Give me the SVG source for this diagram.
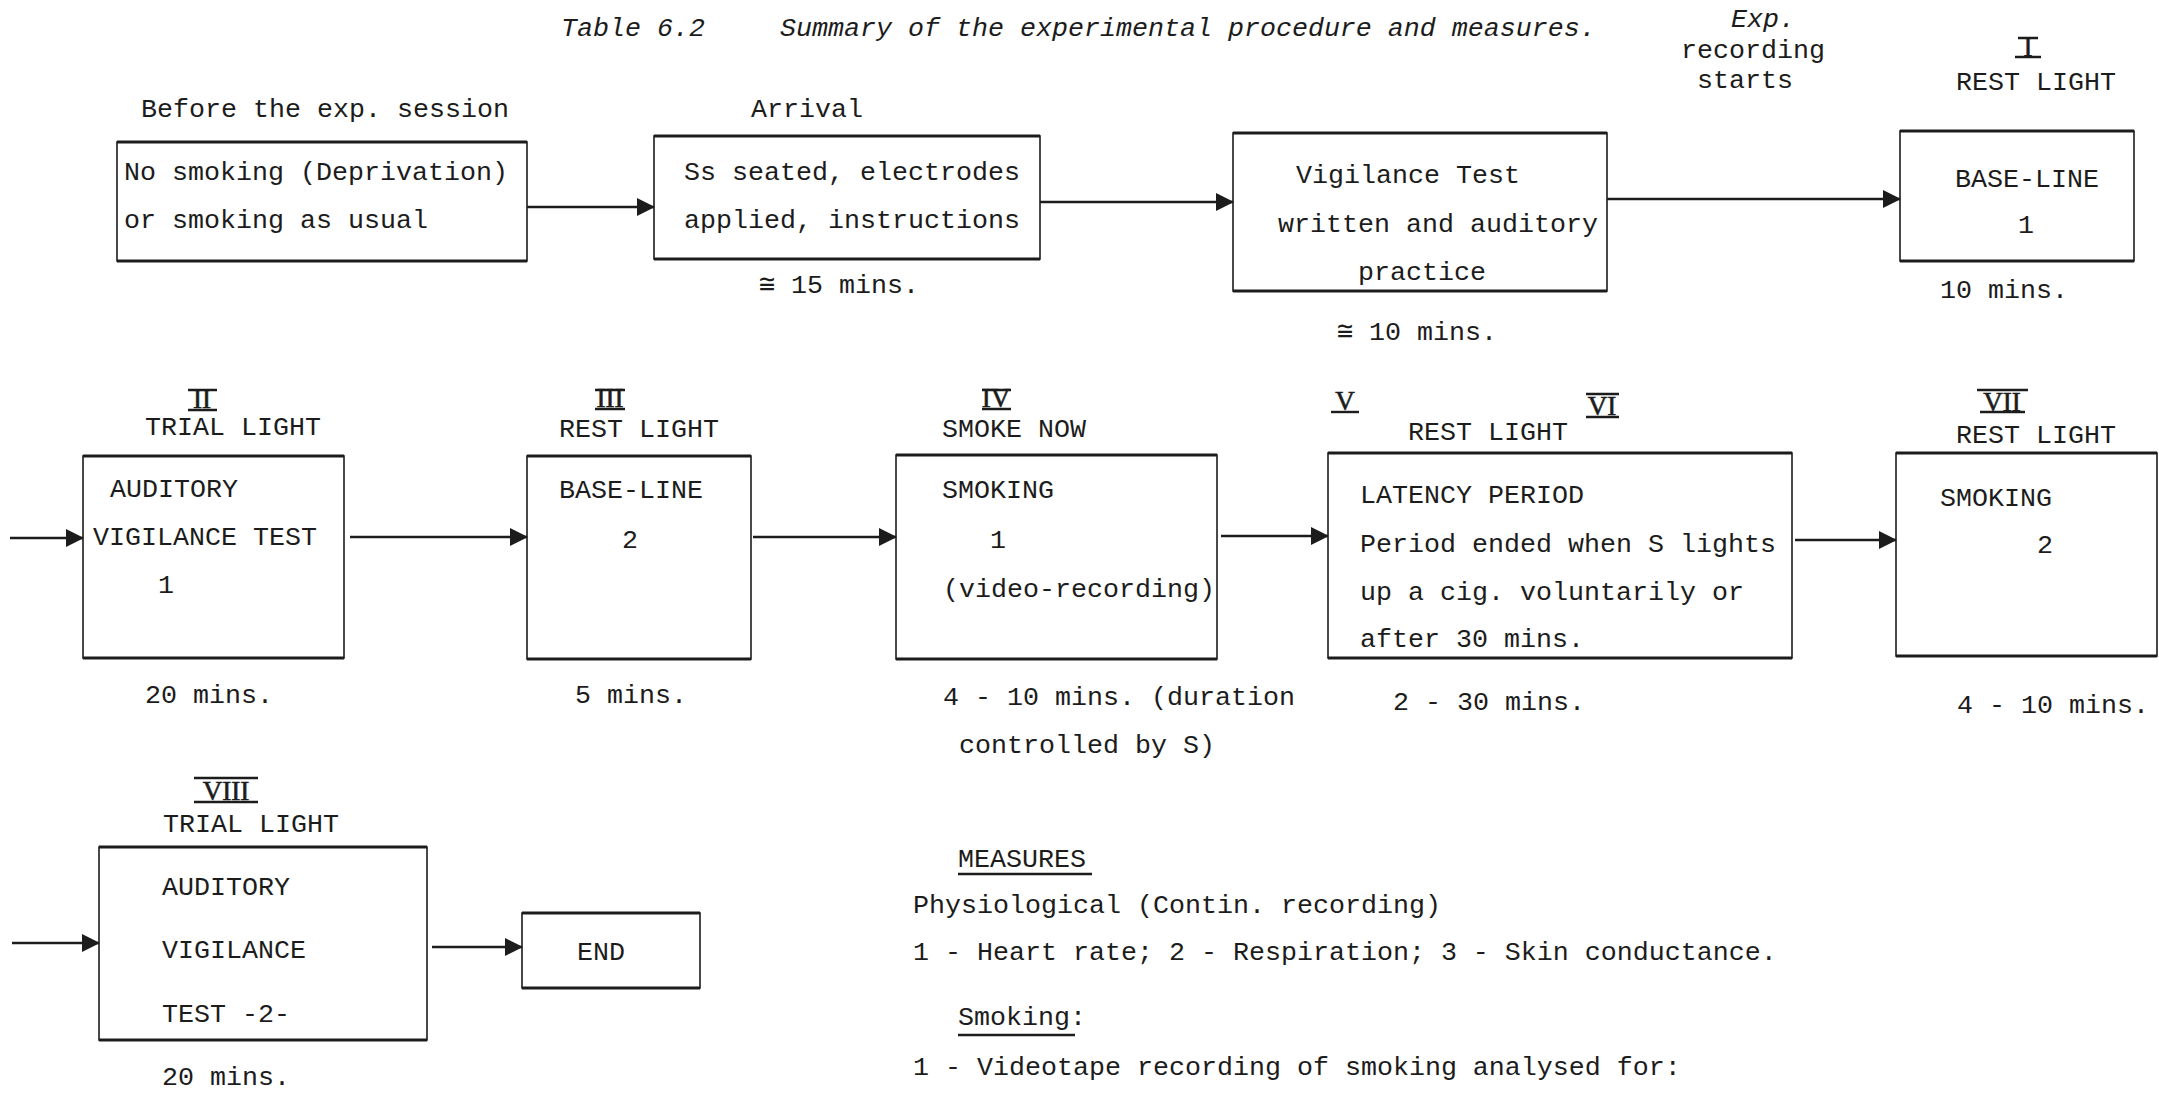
<svg xmlns="http://www.w3.org/2000/svg" width="2159" height="1093" viewBox="0 0 2159 1093">
<defs>
<style>
text{font-family:"Liberation Mono","DejaVu Sans Mono",monospace;font-size:26.67px;fill:#1c1c1c}
.it{font-style:italic}
.rn{font-family:"Liberation Serif","DejaVu Serif",serif;font-size:27px;text-anchor:middle;stroke:#1c1c1c;stroke-width:0.6}
.box{fill:none;stroke:#1c1c1c;stroke-width:1.6}
.edge{stroke:#1c1c1c;stroke-width:3.2;fill:none}
.bar{stroke:#1c1c1c;stroke-width:2.4;fill:none}
.conn{stroke:#1c1c1c;stroke-width:2.6;fill:none;marker-end:url(#ah)}
</style>
<marker id="ah" markerUnits="userSpaceOnUse" markerWidth="18" markerHeight="20" refX="17" refY="10" orient="auto" viewBox="0 0 18 20"><path d="M0,1 L18,10 L0,19 Z" fill="#1c1c1c"/></marker>
</defs>
<rect x="0" y="0" width="2159" height="1093" fill="#ffffff"/>

<g id="title">
<text class="it" x="561" y="36">Table 6.2</text>
<text class="it" x="780" y="36">Summary of the experimental procedure and measures.</text>
</g>

<g id="rec-start">
<text class="it" x="1731" y="27">Exp.</text>
<text x="1681" y="58">recording</text>
<text x="1697" y="88">starts</text>
</g>

<g id="n-before">
<text x="141" y="117">Before the exp. session</text>
<rect class="box" x="117" y="142" width="410" height="119"/>
<path class="edge" d="M117,142 H527 M117,261 H527"/>
<text x="124" y="180">No smoking (Deprivation)</text>
<text x="124" y="228">or smoking as usual</text>
</g>

<g id="n-arrival">
<text x="751" y="117">Arrival</text>
<rect class="box" x="654" y="136" width="386" height="123"/>
<path class="edge" d="M654,136 H1040 M654,259 H1040"/>
<text x="684" y="180">Ss seated, electrodes</text>
<text x="684" y="228">applied, instructions</text>
<text x="759" y="293">≅ 15 mins.</text>
</g>

<g id="n-vigilance-practice">
<rect class="box" x="1233" y="133" width="374" height="158"/>
<path class="edge" d="M1233,133 H1607 M1233,291 H1607"/>
<text x="1296" y="183">Vigilance Test</text>
<text x="1278" y="232">written and auditory</text>
<text x="1358" y="280">practice</text>
<text x="1337" y="340">≅ 10 mins.</text>
</g>

<g id="n-baseline1">
<text class="rn" x="2028" y="56">I</text>
<path class="bar" d="M2018,38 H2038 M2015,57 H2041"/>
<text x="1956" y="90">REST LIGHT</text>
<rect class="box" x="1900" y="131" width="234" height="130"/>
<path class="edge" d="M1900,131 H2134 M1900,261 H2134"/>
<text x="1955" y="187">BASE-LINE</text>
<text x="2018" y="233">1</text>
<text x="1940" y="298">10 mins.</text>
</g>

<g id="n-trial1">
<text class="rn" x="202" y="408">II</text>
<path class="bar" d="M188,390 H217 M188,410 H217"/>
<text x="145" y="435">TRIAL LIGHT</text>
<rect class="box" x="83" y="456" width="261" height="202"/>
<path class="edge" d="M83,456 H344 M83,658 H344"/>
<text x="110" y="497">AUDITORY</text>
<text x="93" y="545">VIGILANCE TEST</text>
<text x="158" y="593">1</text>
<text x="145" y="703">20 mins.</text>
</g>

<g id="n-baseline2">
<text class="rn" x="610" y="407">III</text>
<path class="bar" d="M595,390 H625 M595,409 H625"/>
<text x="559" y="437">REST LIGHT</text>
<rect class="box" x="527" y="456" width="224" height="203"/>
<path class="edge" d="M527,456 H751 M527,659 H751"/>
<text x="559" y="498">BASE-LINE</text>
<text x="622" y="548">2</text>
<text x="575" y="703">5 mins.</text>
</g>

<g id="n-smoking1">
<text class="rn" x="996" y="407">IV</text>
<path class="bar" d="M982,390 H1011 M982,409 H1011"/>
<text x="942" y="437">SMOKE NOW</text>
<rect class="box" x="896" y="455" width="321" height="204"/>
<path class="edge" d="M896,455 H1217 M896,659 H1217"/>
<text x="942" y="498">SMOKING</text>
<text x="990" y="548">1</text>
<text x="943" y="597">(video-recording)</text>
<text x="943" y="705">4 - 10 mins. (duration</text>
<text x="959" y="753">controlled by S)</text>
</g>

<g id="n-latency">
<text class="rn" x="1345" y="410">V</text>
<path class="bar" d="M1331,412 H1359"/>
<text class="rn" x="1602" y="415">VI</text>
<path class="bar" d="M1586,394 H1619 M1586,417 H1619"/>
<text x="1408" y="440">REST LIGHT</text>
<rect class="box" x="1328" y="453" width="464" height="205"/>
<path class="edge" d="M1328,453 H1792 M1328,658 H1792"/>
<text x="1360" y="503">LATENCY PERIOD</text>
<text x="1360" y="552">Period ended when S lights</text>
<text x="1360" y="600">up a cig. voluntarily or</text>
<text x="1360" y="647">after 30 mins.</text>
<text x="1393" y="710">2 - 30 mins.</text>
</g>

<g id="n-smoking2">
<text class="rn" x="2002" y="411">VII</text>
<path class="bar" d="M1977,390 H2028 M1980,412 H2025"/>
<text x="1956" y="443">REST LIGHT</text>
<rect class="box" x="1896" y="453" width="261" height="203"/>
<path class="edge" d="M1896,453 H2157 M1896,656 H2157"/>
<text x="1940" y="506">SMOKING</text>
<text x="2037" y="553">2</text>
<text x="1957" y="713">4 - 10 mins.</text>
</g>

<g id="n-trial2">
<text class="rn" x="226" y="800">VIII</text>
<path class="bar" d="M194,778 H258 M194,802 H258"/>
<text x="163" y="832">TRIAL LIGHT</text>
<rect class="box" x="99" y="847" width="328" height="193"/>
<path class="edge" d="M99,847 H427 M99,1040 H427"/>
<text x="162" y="895">AUDITORY</text>
<text x="162" y="958">VIGILANCE</text>
<text x="162" y="1022">TEST -2-</text>
<text x="162" y="1085">20 mins.</text>
</g>

<g id="n-end">
<rect class="box" x="522" y="913" width="178" height="75"/>
<path class="edge" d="M522,913 H700 M522,988 H700"/>
<text x="577" y="960">END</text>
</g>

<g id="measures">
<text x="958" y="867">MEASURES</text>
<path class="bar" d="M958,874 H1092"/>
<text x="913" y="913">Physiological (Contin. recording)</text>
<text x="913" y="960">1 - Heart rate; 2 - Respiration; 3 - Skin conductance.</text>
<text x="958" y="1025">Smoking:</text>
<path class="bar" d="M958,1035 H1075"/>
<text x="913" y="1075">1 - Videotape recording of smoking analysed for:</text>
</g>

<g id="connectors">
<path class="conn" d="M527,207 H654"/>
<path class="conn" d="M1040,202 H1233"/>
<path class="conn" d="M1607,199 H1900"/>
<path class="conn" d="M10,538 H83"/>
<path class="conn" d="M350,537 H527"/>
<path class="conn" d="M753,537 H896"/>
<path class="conn" d="M1221,536 H1328"/>
<path class="conn" d="M1795,540 H1896"/>
<path class="conn" d="M12,943 H99"/>
<path class="conn" d="M432,947 H522"/>
</g>
</svg>
